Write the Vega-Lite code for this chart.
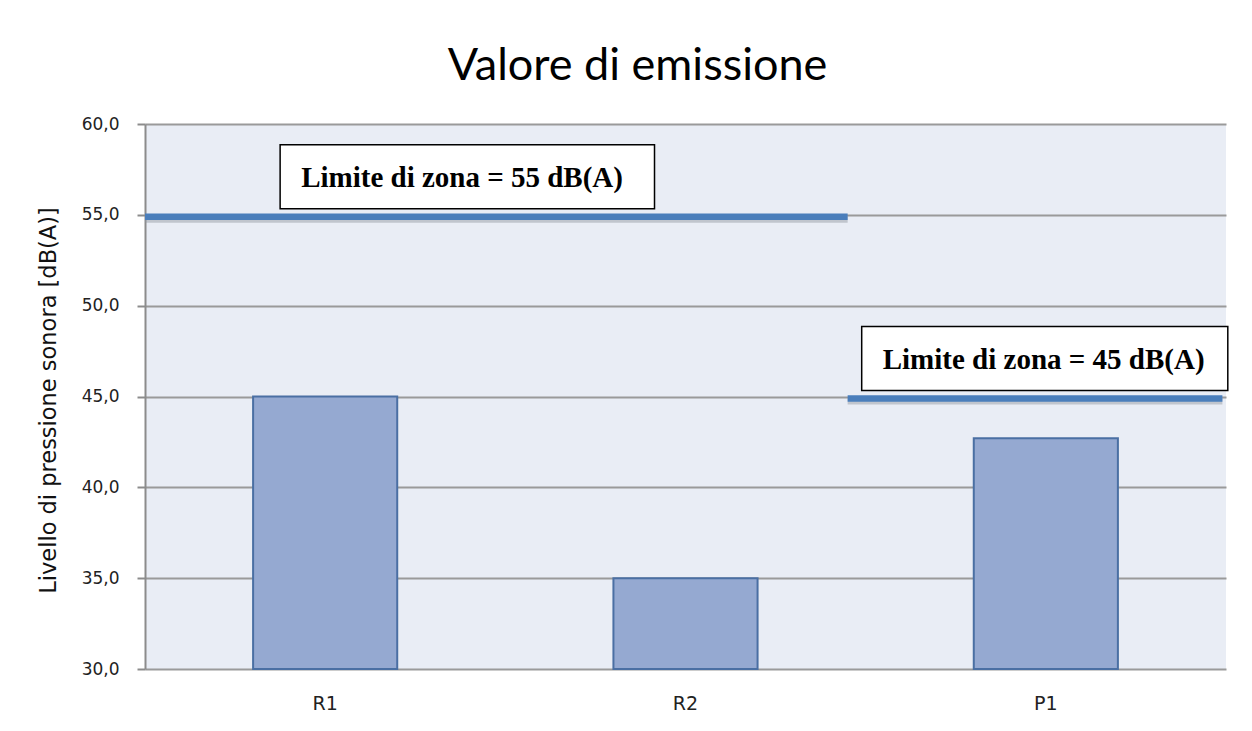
{
  "$schema": "https://vega.github.io/schema/vega-lite/v6.json",
  "autosize": {"type": "none"},
  "width": 1081,
  "height": 545,
  "padding": {"left": 145, "top": 124, "right": 26, "bottom": 62},
  "background": "white",
  "title": {
    "text": "Valore di emissione",
    "anchor": "middle",
    "frame": "group",
    "dx": -48,
    "offset": 26,
    "font": "Lato",
    "fontSize": 45,
    "fontWeight": "normal",
    "color": "#000000"
  },
  "datasets": {
    "livelli": [
      {"punto": "R1", "livello": 45.0},
      {"punto": "R2", "livello": 35.0},
      {"punto": "P1", "livello": 42.7}
    ],
    "limiti": [
      {"limite": 55, "da": 0, "a": 1.95, "boxDa": 0.375, "boxA": 1.414, "testo": "Limite di zona = 55 dB(A)"},
      {"limite": 45, "da": 1.95, "a": 2.99, "boxDa": 1.989, "boxA": 3.005, "testo": "Limite di zona = 45 dB(A)"}
    ]
  },
  "resolve": {"scale": {"x": "independent"}, "axis": {"x": "independent"}},
  "layer": [
    {
      "data": {"name": "livelli"},
      "mark": {"type": "bar", "fill": "#95A9D1", "stroke": "#4A6FA3", "strokeWidth": 2},
      "encoding": {
        "x": {
          "field": "punto",
          "type": "nominal",
          "sort": null,
          "scale": {"paddingInner": 0.6, "paddingOuter": 0.3},
          "axis": {
            "title": null,
            "labelAngle": 0,
            "domain": false,
            "ticks": false,
            "grid": false,
            "labelFont": "DejaVu Sans",
            "labelFontSize": 19,
            "labelColor": "#222222",
            "labelPadding": 25
          }
        },
        "y": {
          "field": "livello",
          "type": "quantitative",
          "scale": {"domain": [30, 60], "zero": false, "nice": false},
          "axis": {
            "title": "Livello di pressione sonora [dB(A)]",
            "values": [30, 35, 40, 45, 50, 55, 60],
            "format": ".1f",
            "labelFont": "DejaVu Sans",
            "labelFontSize": 17,
            "labelColor": "#222222",
            "labelPadding": 18
          }
        },
        "y2": {"datum": 30}
      }
    },
    {
      "data": {"name": "limiti"},
      "mark": {"type": "rule", "stroke": "#8E949E", "strokeWidth": 6, "opacity": 0.45, "yOffset": 5},
      "encoding": {
        "x": {"field": "da", "type": "quantitative", "scale": {"domain": [0, 3], "nice": false, "zero": false}, "axis": null},
        "x2": {"field": "a"},
        "y": {"field": "limite", "type": "quantitative"}
      }
    },
    {
      "data": {"name": "limiti"},
      "mark": {"type": "rule", "stroke": "#4A7EBB", "strokeWidth": 6.5, "yOffset": 2},
      "encoding": {
        "x": {"field": "da", "type": "quantitative", "scale": {"domain": [0, 3], "nice": false, "zero": false}, "axis": null},
        "x2": {"field": "a"},
        "y": {"field": "limite", "type": "quantitative"}
      }
    },
    {
      "data": {"name": "limiti"},
      "mark": {"type": "rect", "fill": "white", "stroke": "black", "strokeWidth": 1.5, "yOffset": -6, "y2Offset": -70, "clip": false},
      "encoding": {
        "x": {"field": "boxDa", "type": "quantitative", "scale": {"domain": [0, 3], "nice": false, "zero": false}, "axis": null},
        "x2": {"field": "boxA"},
        "y": {"field": "limite", "type": "quantitative"},
        "y2": {"field": "limite"}
      }
    },
    {
      "data": {"name": "limiti"},
      "mark": {
        "type": "text",
        "align": "left",
        "baseline": "middle",
        "xOffset": 21,
        "yOffset": -37,
        "font": "Liberation Serif",
        "fontWeight": "bold",
        "fontSize": 29,
        "color": "black"
      },
      "encoding": {
        "x": {"field": "boxDa", "type": "quantitative", "scale": {"domain": [0, 3], "nice": false, "zero": false}, "axis": null},
        "y": {"field": "limite", "type": "quantitative"},
        "text": {"field": "testo"}
      }
    }
  ],
  "config": {
    "locale": {
      "number": {"decimal": ",", "thousands": ".", "grouping": [3], "currency": ["", " €"]}
    },
    "view": {"fill": "#E9EDF5", "stroke": null},
    "axisY": {
      "domain": true,
      "domainColor": "#8C8C8C",
      "domainWidth": 2,
      "ticks": true,
      "tickColor": "#8C8C8C",
      "tickSize": 8,
      "tickWidth": 2,
      "grid": true,
      "gridColor": "#9A9A9A",
      "gridWidth": 2,
      "titleFont": "DejaVu Sans",
      "titleFontSize": 22.5,
      "titleFontWeight": "normal",
      "titleColor": "#111111",
      "titleX": -97,
      "titleY": 276,
      "titleBaseline": "middle",
      "titleAlign": "center"
    }
  }
}
